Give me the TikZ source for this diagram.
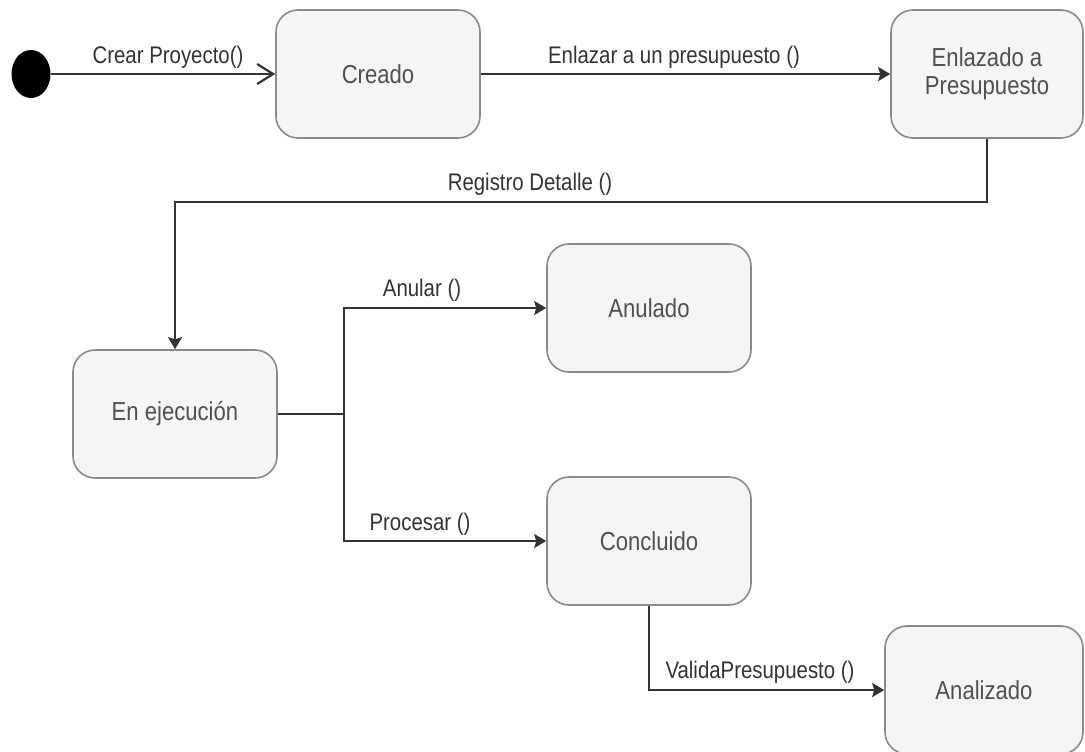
\documentclass[tikz,border=0pt]{standalone}
\usepackage{fontspec}
\setmainfont[FakeStretch=0.85]{Liberation Sans}
\usetikzlibrary{arrows.meta,shapes.geometric}
\definecolor{linea}{HTML}{333333}
\definecolor{borde}{HTML}{8A8A8A}
\definecolor{relleno}{HTML}{F5F5F5}
\definecolor{texto}{HTML}{505050}
\tikzset{
  estado/.style={draw=borde,fill=relleno,line width=0.8pt,rounded corners=11pt,minimum width=102pt,minimum height=64pt,inner sep=0pt,align=center,text=texto,font=\fontsize{13}{14}\selectfont},
  inicio/.style={ellipse,fill=black,inner sep=0pt,minimum width=19.5pt,minimum height=24pt},
  etiqueta/.style={anchor=base,inner sep=0pt,text=linea,font=\fontsize{12}{14}\selectfont},
  flecha/.style={draw=linea,line width=1.1pt,-{Stealth[length=6pt,width=7pt,inset=1pt]}},
  abierta/.style={draw=linea,line width=1.1pt,-{Straight Barb[length=8pt,width=10pt]}}
}
\begin{document}
\begin{tikzpicture}[x=0.5pt,y=-0.5pt]
	\useasboundingbox (0,0) rectangle (1085,751);
	\node[inicio](ini) at (31,74){};
	\node[estado](creado) at (378,74){Creado};
	\node[estado,minimum width=96pt](enlazado) at (987,74){Enlazado a\\Presupuesto};
	\node[estado](ejec) at (175,414){En ejecución};
	\node[estado](anulado) at (649,308){Anulado};
	\node[estado](concluido) at (649,541){Concluido};
	\node[estado,minimum width=99pt](analizado) at (984,690){Analizado};
	\coordinate(codo) at (175,202);
	\coordinate(fork) at (344,414);
	\draw[abierta](ini)--(creado);
	\draw[flecha](creado)--(enlazado);
	\draw[flecha](enlazado.south)|-(codo)--(ejec.north);
	\draw[draw=linea,line width=1.1pt](ejec.east)--(fork);
	\draw[flecha](fork)|-(anulado.west);
	\draw[flecha](fork)|-(concluido.west);
	\draw[flecha](concluido.south)|-(analizado.west);
	\node[etiqueta](lcrear) at (168,63){Crear Proyecto()};
	\node[etiqueta](lenlazar) at (674,63){Enlazar a un presupuesto ()};
	\node[etiqueta](lregistro) at (530,190){Registro Detalle ()};
	\node[etiqueta](lanular) at (422,296){Anular ()};
	\node[etiqueta](lprocesar) at (420,530){Procesar ()};
	\node[etiqueta](lvalida) at (760,678){ValidaPresupuesto ()};
\end{tikzpicture}
\end{document}
